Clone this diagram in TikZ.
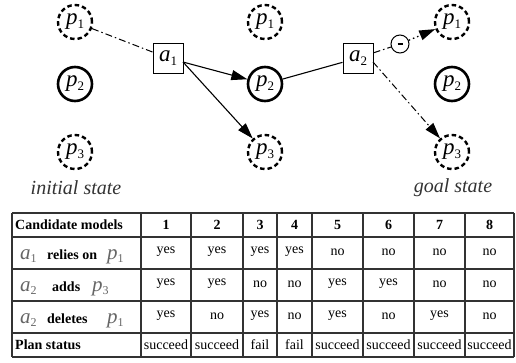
\documentclass[tikz,border=0pt]{standalone}
\usepackage{fontspec}
\setmainfont{Liberation Serif}
\usetikzlibrary{arrows.meta}
\newcommand{\symb}[3]{\textit{#1}\raisebox{-0.35ex}{\fontsize{#3}{#3}\selectfont #2}}
\tikzset{
  dcirc/.style={circle, draw, line width=2.4pt, dash pattern=on 4.5pt off 3pt, minimum size=34pt, inner sep=0pt, font=\fontsize{23}{23}\selectfont},
  scirc/.style={circle, draw, line width=2.6pt, minimum size=34pt, inner sep=0pt, font=\fontsize{23}{23}\selectfont},
  actbox/.style={draw, line width=1pt, minimum size=30pt, inner sep=0pt, font=\fontsize{23}{23}\selectfont},
  minus/.style={circle, draw, line width=1pt, minimum size=18pt, inner sep=0pt},
  arr/.style={-{Triangle[length=16pt,width=10pt]}, line width=1.1pt},
  dashdot/.style={line width=1pt, dash pattern=on 7pt off 3pt on 1.5pt off 3pt},
  dotline/.style={line width=1.3pt, dash pattern=on 1.5pt off 3pt},
  statelbl/.style={font=\fontsize{20}{20}\selectfont\itshape, text=black!80},
  tline/.style={line width=1.2pt, black!80},
  hd/.style={font=\fontsize{14}{14}\selectfont\bfseries},
  cell/.style={font=\fontsize{14}{14}\selectfont},
  gm/.style={font=\fontsize{21}{21}\selectfont, text=black!60, anchor=base west, inner sep=0pt},
  bl/.style={font=\fontsize{14}{14}\selectfont\bfseries, anchor=base west, inner sep=0pt},
}
\begin{document}
\begin{tikzpicture}[x=1pt,y=-1pt]
\useasboundingbox (0,0) rectangle (516,362);
% states
\node[dcirc] (lp1) at (75,22) {\symb{p}{1}{13}};
\node[scirc] (lp2) at (75,84) {\symb{p}{2}{13}};
\node[dcirc] (lp3) at (75,152) {\symb{p}{3}{13}};
\node[dcirc] (mp1) at (265,22) {\symb{p}{1}{13}};
\node[scirc] (mp2) at (265,84) {\symb{p}{2}{13}};
\node[dcirc] (mp3) at (265,152) {\symb{p}{3}{13}};
\node[dcirc] (rp1) at (452,22) {\symb{p}{1}{13}};
\node[scirc] (rp2) at (452,84) {\symb{p}{2}{13}};
\node[dcirc] (rp3) at (452,152) {\symb{p}{3}{13}};
\node[actbox] (a1) at (168,58) {\symb{a}{1}{13}};
\node[actbox] (a2) at (358,58) {\symb{a}{2}{13}};
\node[minus] (mn) at (400,44) {\rule[0.5pt]{5pt}{2.2pt}};
\node[statelbl] (init) at (76,188) {initial state};
\node[statelbl] (goal) at (453,188) {goal state};
% connectors
\draw[dashdot] (lp1) -- (a1);
\draw[arr] (a1) -- (mp2);
\coordinate (a1s) at (183,62);
\draw[arr] (a1s) -- (mp3);
\draw[line width=1.1pt] (mp2) -- (a2);
\draw[dashdot] (a2) -- (mn);
\draw[dotline, -{Triangle[length=16pt,width=10pt]}] (mn) -- (rp1);
\coordinate (a2s) at (373,62);
\draw[dashdot, -{Triangle[length=16pt,width=10pt]}] (a2s) -- (rp3);
% table
\foreach \yy in {213,237,269,301,333,357} \draw[tline] (12,\yy) -- (514,\yy);
\foreach \xx in {12,141,191,243,277,312,363,414,465,514} \draw[tline] (\xx,213) -- (\xx,357);
\node[hd, anchor=west, inner sep=0pt] (h0) at (15,225) {Candidate models};
\foreach \n/\xc in {1/166,2/217,3/260,4/294.5,5/337.5,6/388.5,7/439.5,8/489.5}
  \node[hd] (h\n) at (\xc,225) {\n};
% row labels
\node[gm] (r1a) at (20,259) {\symb{a}{1}{12}};
\node[bl] (r1t) at (47,259) {relies on};
\node[gm] (r1p) at (107,259) {\symb{p}{1}{12}};
\node[gm] (r2a) at (20,291) {\symb{a}{2}{12}};
\node[bl] (r2t) at (52,291) {adds};
\node[gm] (r2p) at (92,291) {\symb{p}{3}{12}};
\node[gm] (r3a) at (20,323) {\symb{a}{2}{12}};
\node[bl] (r3t) at (47,323) {deletes};
\node[gm] (r3p) at (107,323) {\symb{p}{1}{12}};
\node[hd, anchor=west, inner sep=0pt] (ps) at (15,345) {Plan status};
% cells
\foreach \xc/\va/\vb/\vc/\vd [count=\i] in {166/yes/yes/yes/succeed,217/yes/yes/no/succeed,260/yes/no/yes/fail,294.5/yes/no/no/fail,337.5/no/yes/yes/succeed,388.5/no/yes/no/succeed,439.5/no/no/yes/succeed,489.5/no/no/no/succeed}{
  \node[cell] (c1\i) at (\xc,252) {\va};
  \node[cell] (c2\i) at (\xc,284) {\vb};
  \node[cell] (c3\i) at (\xc,316) {\vc};
  \node[cell] (c4\i) at (\xc,345) {\vd};
}
\end{tikzpicture}
\end{document}
